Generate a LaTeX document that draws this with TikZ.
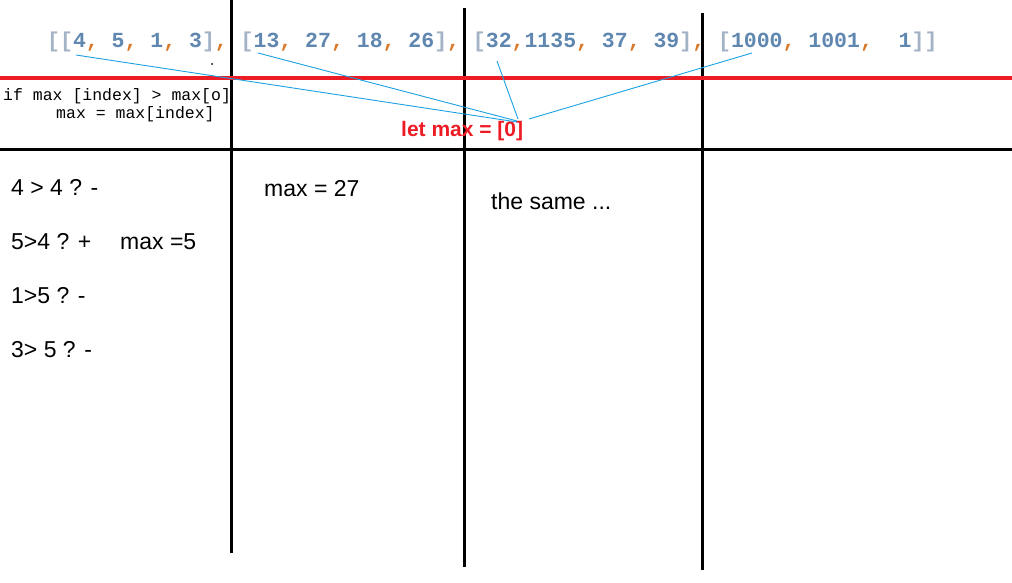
\documentclass[tikz,border=0pt]{standalone}
\usepackage{fontspec}
\setmainfont{Liberation Sans}
\setmonofont{Liberation Mono}
\usepackage{tikz}
\definecolor{paintred}{HTML}{ED1C24}
\definecolor{linkblue}{HTML}{1BA1E2}
\definecolor{brk}{HTML}{A3B3C5}
\definecolor{num}{HTML}{5F87B0}
\definecolor{cma}{HTML}{D8782A}
\newcommand{\bk}[1]{\textcolor{brk}{#1}}
\newcommand{\nm}[1]{\textcolor{num}{#1}}
\newcommand{\cm}{\textcolor{cma}{,}}
\tikzset{note/.style={anchor=base west, inner sep=0pt, font=\fontsize{23}{26}\selectfont}}

\begin{document}
\begin{tikzpicture}[x=1pt,y=-1pt]
\useasboundingbox (0,0) rectangle (1012,583);
\foreach \x/\a/\b in {231/0/553, 464/8/567, 702/13/570} {
 \draw[line width=3pt] (\x,\a) -- (\x,\b);
 }
\draw[line width=3pt] (0,150) -- (1012,150);
\draw[paintred, line width=4.5pt] (0,78) -- (1012,78);
\fill (212,64) circle (1pt);

\node[anchor=base west, inner sep=0pt, font=\fontsize{21.5}{24}\ttfamily\bfseries] (arr) at (47,48)
 {\bk{[[}\nm{4}\cm{} \nm{5}\cm{} \nm{1}\cm{} \nm{3}\bk{]}\cm{} \bk{[}\nm{13}\cm{} \nm{27}\cm{} \nm{18}\cm{} \nm{26}\bk{]}\cm{} \bk{[}\nm{32}\cm\nm{1135}\cm{} \nm{37}\cm{} \nm{39}\bk{]}\cm{} \bk{[}\nm{1000}\cm{} \nm{1001}\cm\ \ \nm{1}\bk{]]}};
\node[anchor=base west, inner sep=0pt, font=\fontsize{16.5}{19}\ttfamily] (cond) at (3,101) {if max [index] > max[o]};
\node[anchor=base west, inner sep=0pt, font=\fontsize{16.5}{19}\ttfamily] (upd) at (56,119) {max = max[index]};
\node[anchor=base west, inner sep=0pt, text=paintred, font=\fontsize{21}{24}\bfseries] (let) at (401,137) {let max = [0]};

\coordinate (s4) at (76,55);
\coordinate (s13) at (258,53);
\coordinate (s32) at (497,61);
\coordinate (s1000) at (752,53);
\coordinate (e4) at (517,122);
\coordinate (e13) at (517,121);
\coordinate (e32) at (518,119);
\coordinate (e1000) at (529,119);
\foreach \n in {4,13,32,1000} {
 \draw[linkblue, line width=0.9pt] (s\n) -- (e\n);
 }

\node[note] (c1) at (11,195) {4 > 4 ? -};
\node[note] (c2) at (11,249) {5>4 ? +};
\node[note] (m1) at (120,249) {max =5};
\node[note] (c3) at (11,303) {1>5 ? -};
\node[note] (c4) at (11,357) {3> 5 ? -};
\node[note] (m2) at (264,196) {max = 27};
\node[note] (same) at (491,209) {the same ...};
\end{tikzpicture}
\end{document}
